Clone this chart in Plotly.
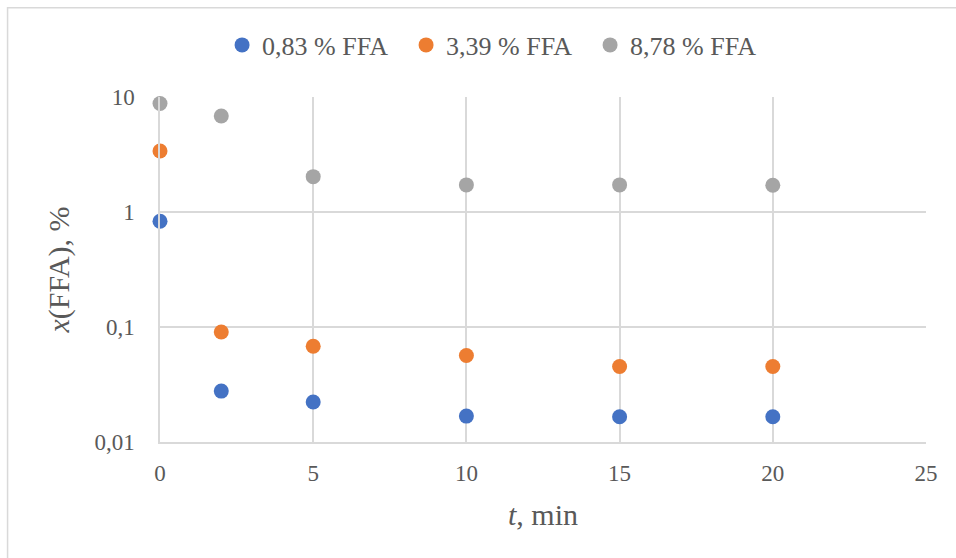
import plotly.graph_objects as go

# Reaction time, min
t_min = [0, 2, 5, 10, 15, 20]

# FFA content x(FFA), % for each starting oil
ffa_083 = [0.83, 0.0277, 0.0223, 0.0168, 0.0166, 0.0166]
ffa_339 = [3.39, 0.0905, 0.068, 0.0565, 0.0453, 0.0453]
ffa_878 = [8.78, 6.84, 2.03, 1.72, 1.72, 1.71]

series_names = ["0,83 % FFA", "3,39 % FFA", "8,78 % FFA"]
series_colors = ["#4472C4", "#ED7D31", "#A5A5A5"]

x_ticks = [0, 5, 10, 15, 20, 25]
y_ticks = [0.01, 0.1, 1, 10]
y_ticktext = ["0,01", "0,1", "1", "10"]

FONT = "Liberation Serif"
TEXT = "#595959"
GRID = "#D9D9D9"

fig = go.Figure()
for name, ys, col in zip(series_names, [ffa_083, ffa_339, ffa_878], series_colors):
    fig.add_trace(go.Scatter(
        x=t_min, y=ys, mode="markers", name=name,
        marker=dict(size=15, color=col, line=dict(width=0)),
        cliponaxis=False,
    ))

fig.update_layout(
    width=956, height=558,
    margin=dict(l=160, r=30, t=97, b=116, autoexpand=False),
    paper_bgcolor="white", plot_bgcolor="white",
    font=dict(family=FONT, size=23, color=TEXT),
    legend=dict(
        orientation="h", xref="container", yref="container",
        x=0.521, xanchor="center", y=1 - 45 / 558, yanchor="middle",
        font=dict(family=FONT, size=26, color=TEXT), itemwidth=30,
        entrywidth=139, entrywidthmode="pixels", bgcolor="rgba(0,0,0,0)",
    ),
    xaxis=dict(
        range=[0, 25], tickvals=x_ticks, showgrid=True, gridcolor=GRID, gridwidth=1.5,
        zeroline=False, showline=True, linecolor=GRID, linewidth=1.5, mirror=False,
        ticks="", ticklen=0, ticklabelstandoff=10,
        title=dict(text="<i>t</i>, min", font=dict(family=FONT, size=30, color=TEXT), standoff=19),
    ),
    yaxis=dict(
        type="log", range=[-2, 1], tickvals=y_ticks, ticktext=y_ticktext,
        showgrid=True, gridcolor=GRID, gridwidth=1.5,
        zeroline=False, showline=True, linecolor=GRID, linewidth=1.5,
        ticks="", ticklen=0, ticklabelstandoff=19,
        title=dict(text="<i>x</i>(FFA), %", font=dict(family=FONT, size=30, color=TEXT), standoff=16),
    ),
    shapes=[dict(
        type="rect", xref="paper", yref="paper",
        x0=-0.199, x1=1.05, y0=-0.35, y1=1.259,
        line=dict(color=GRID, width=1.5), layer="below",
    )],
)

fig.write_html("out.html")
